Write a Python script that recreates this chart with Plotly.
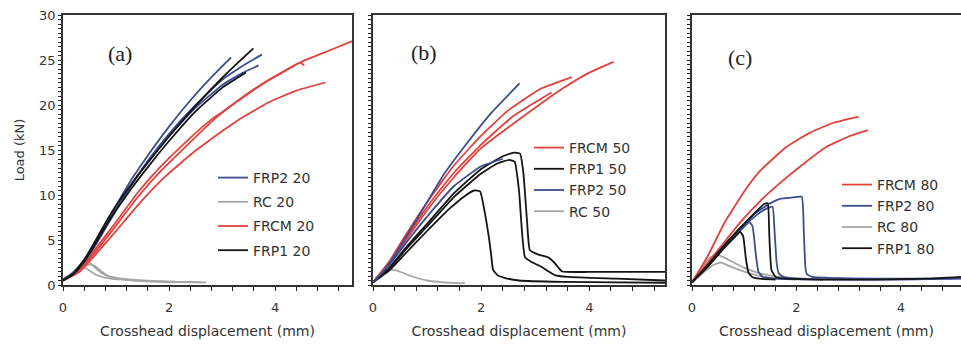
import plotly.graph_objects as go

# ---------------- Panel (a) : 20 ----------------
A_FRP2_1_X = [0, 0.2, 0.4, 0.6, 0.8, 1.0, 1.3, 1.6, 2.0, 2.4, 2.8, 3.17]
A_FRP2_1_Y = [0.6, 1.4, 2.8, 4.6, 6.7, 8.8, 11.8, 14.4, 17.6, 20.5, 23.1, 25.3]
A_FRP2_2_X = [0, 0.2, 0.4, 0.6, 0.8, 1.0, 1.3, 1.6, 2.0, 2.5, 3.0, 3.4, 3.75]
A_FRP2_2_Y = [0.6, 1.3, 2.6, 4.3, 6.3, 8.3, 11.2, 13.8, 16.8, 20.0, 22.8, 24.4, 25.6]
A_FRP2_3_X = [0, 0.2, 0.4, 0.6, 0.8, 1.0, 1.3, 1.6, 2.0, 2.5, 3.0, 3.4, 3.69]
A_FRP2_3_Y = [0.6, 1.3, 2.7, 4.4, 6.4, 8.4, 11.2, 13.7, 16.6, 19.7, 22.2, 23.6, 24.4]

A_RC_1_X = [0, 0.2, 0.4, 0.5, 0.65, 0.8, 1.0, 1.3, 1.7, 2.2, 2.7]
A_RC_1_Y = [0.5, 1.5, 2.6, 2.5, 1.7, 1.1, 0.8, 0.6, 0.45, 0.35, 0.3]
A_RC_2_X = [0, 0.2, 0.35, 0.45, 0.6, 0.8, 1.1, 1.5, 2.0, 2.6]
A_RC_2_Y = [0.5, 1.3, 2.0, 1.8, 1.2, 0.8, 0.6, 0.45, 0.35, 0.3]
A_RC_3_X = [0, 0.25, 0.5, 0.6, 0.75, 0.9, 1.2, 1.6, 2.1]
A_RC_3_Y = [0.5, 1.6, 2.3, 2.1, 1.4, 0.9, 0.6, 0.4, 0.3]

A_FRCM_1_X = [0, 0.3, 0.6, 1.0, 1.4, 1.8, 2.3, 2.8, 3.1, 3.6, 4.0, 4.5, 5.0, 5.5]
A_FRCM_1_Y = [0.5, 1.6, 3.9, 7.0, 10.2, 12.9, 15.8, 18.4, 19.6, 21.7, 23.2, 24.8, 26.0, 27.2]
A_FRCM_2_X = [0, 0.3, 0.6, 1.0, 1.4, 1.8, 2.3, 2.85, 3.3, 3.8, 4.2, 4.47, 4.55]
A_FRCM_2_Y = [0.5, 1.5, 3.6, 6.6, 9.7, 12.4, 15.3, 18.4, 20.5, 22.5, 23.8, 24.7, 24.4]
A_FRCM_3_X = [0, 0.3, 0.6, 1.0, 1.4, 1.9, 2.47, 2.72, 3.3, 3.88, 4.4, 4.95]
A_FRCM_3_Y = [0.5, 1.4, 3.3, 6.0, 8.8, 11.9, 14.8, 15.9, 18.3, 20.3, 21.6, 22.5]

A_FRP1_1_X = [0, 0.2, 0.4, 0.6, 0.8, 1.0, 1.3, 1.6, 2.0, 2.5, 3.0, 3.3, 3.59]
A_FRP1_1_Y = [0.5, 1.3, 2.8, 4.8, 6.9, 8.8, 11.3, 13.6, 16.5, 19.9, 23.0, 24.7, 26.3]
A_FRP1_2_X = [0, 0.2, 0.4, 0.6, 0.8, 1.0, 1.3, 1.6, 2.0, 2.5, 3.0, 3.45]
A_FRP1_2_Y = [0.5, 1.2, 2.6, 4.5, 6.5, 8.3, 10.8, 13.1, 16.0, 19.3, 21.9, 23.6]

# ---------------- Panel (b) : 50 ----------------
B_FRCM_1_X = [0, 0.3, 0.6, 1.0, 1.5, 2.0, 2.5, 3.1, 3.68]
B_FRCM_1_Y = [0.3, 2.6, 5.5, 9.2, 13.3, 16.6, 19.4, 21.8, 23.1]
B_FRCM_2_X = [0, 0.3, 0.6, 1.0, 1.5, 2.0, 2.75, 3.5, 4.0, 4.45]
B_FRCM_2_Y = [0.3, 2.3, 4.9, 8.3, 12.0, 15.2, 18.6, 21.8, 23.6, 24.8]
B_FRCM_3_X = [0, 0.3, 0.6, 1.0, 1.5, 2.0, 2.6, 3.3]
B_FRCM_3_Y = [0.3, 2.4, 5.1, 8.7, 12.5, 15.6, 18.8, 21.4]

B_FRP1_1_X = [0, 0.3, 0.6, 1.0, 1.5, 2.0, 2.4, 2.6, 2.72, 2.78, 2.85, 2.9, 3.05, 3.23, 3.35, 3.42, 3.5, 4.0, 5.0, 5.4]
B_FRP1_1_Y = [0.3, 1.9, 4.1, 6.8, 10.2, 12.9, 14.3, 14.7, 14.6, 12.5, 7.0, 3.9, 3.4, 3.1, 2.5, 2.0, 1.5, 1.45, 1.45, 1.45]
B_FRP1_2_X = [0, 0.3, 0.6, 1.0, 1.5, 2.0, 2.3, 2.52, 2.62, 2.7, 2.81, 2.95, 3.12, 3.25, 3.36, 3.6, 4.5, 5.4]
B_FRP1_2_Y = [0.3, 1.8, 3.9, 6.5, 9.8, 12.4, 13.5, 13.9, 13.7, 10.5, 3.1, 2.5, 2.0, 1.5, 1.1, 0.9, 0.7, 0.5]
B_FRP1_3_X = [0, 0.3, 0.6, 1.0, 1.4, 1.7, 1.87, 1.98, 2.06, 2.15, 2.19, 2.22, 2.3, 2.43, 2.7, 3.5, 4.5, 5.4]
B_FRP1_3_Y = [0.3, 1.6, 3.5, 6.0, 8.4, 9.9, 10.5, 10.4, 8.3, 5.0, 3.1, 1.7, 1.1, 0.8, 0.5, 0.35, 0.3, 0.25]

B_FRP2_1_X = [0, 0.2, 0.4, 0.88, 1.3, 1.68, 2.2, 2.71]
B_FRP2_1_Y = [0.3, 1.6, 3.3, 8.0, 12.2, 15.3, 19.2, 22.4]
B_FRP2_2_X = [0, 0.3, 0.6, 1.0, 1.5, 2.0, 2.4]
B_FRP2_2_Y = [0.3, 2.2, 4.6, 7.6, 11.0, 13.2, 14.0]

B_RC_1_X = [0, 0.15, 0.3, 0.45, 0.7, 1.0, 1.3, 1.7]
B_RC_1_Y = [0.3, 1.2, 1.7, 1.6, 1.0, 0.5, 0.3, 0.2]

# ---------------- Panel (c) : 80 ----------------
C_FRCM_1_X = [0, 0.3, 0.63, 1.0, 1.29, 1.8, 2.25, 2.7, 3.19]
C_FRCM_1_Y = [0.3, 3.2, 7.0, 10.4, 12.6, 15.3, 16.9, 18.0, 18.7]
C_FRCM_2_X = [0, 0.5, 0.96, 1.3, 1.6, 2.1, 2.56, 3.0, 3.37]
C_FRCM_2_Y = [0.3, 3.9, 7.2, 9.3, 10.9, 13.3, 15.3, 16.5, 17.2]

C_FRP2_1_X = [0, 0.3, 0.6, 0.9, 1.2, 1.5, 1.7, 1.9, 2.1, 2.14, 2.17, 2.2, 2.3, 2.6, 3.5, 4.5, 5.15]
C_FRP2_1_Y = [0.3, 2.2, 4.3, 6.2, 7.9, 9.1, 9.6, 9.7, 9.8, 6.0, 2.0, 1.2, 0.9, 0.8, 0.7, 0.7, 0.75]
C_FRP2_2_X = [0, 0.3, 0.6, 0.9, 1.2, 1.4, 1.54, 1.58, 1.62, 1.66, 1.75, 2.0, 3.0, 4.0, 5.15]
C_FRP2_2_Y = [0.3, 2.1, 4.2, 6.0, 7.6, 8.4, 8.7, 6.0, 2.5, 1.3, 0.9, 0.7, 0.6, 0.6, 0.7]
C_FRP2_3_X = [0, 0.3, 0.6, 0.9, 1.1, 1.16, 1.22, 1.27, 1.35, 1.6, 2.5]
C_FRP2_3_Y = [0.3, 2.1, 4.1, 5.9, 7.0, 6.5, 3.5, 1.5, 0.9, 0.7, 0.6]

C_RC_1_X = [0, 0.15, 0.3, 0.45, 0.6, 0.8, 1.0, 1.3, 1.7, 2.2]
C_RC_1_Y = [0.3, 1.6, 2.8, 3.4, 3.1, 2.5, 1.9, 1.3, 0.9, 0.7]
C_RC_2_X = [0, 0.2, 0.4, 0.55, 0.8, 1.1, 1.5, 2.0]
C_RC_2_Y = [0.3, 1.3, 2.2, 2.5, 1.9, 1.3, 0.8, 0.6]

C_FRP1_1_X = [0, 0.3, 0.6, 0.9, 1.2, 1.38, 1.45, 1.48, 1.52, 1.6, 1.8, 2.5, 3.5, 4.5, 5.15]
C_FRP1_1_Y = [0.3, 2.2, 4.3, 6.2, 8.0, 9.0, 9.1, 5.5, 1.7, 0.9, 0.7, 0.6, 0.6, 0.7, 0.9]
C_FRP1_2_X = [0, 0.3, 0.6, 0.8, 0.92, 0.98, 1.03, 1.08, 1.15, 1.3, 1.6]
C_FRP1_2_Y = [0.3, 2.0, 4.0, 5.2, 5.9, 5.4, 3.0, 1.4, 0.9, 0.7, 0.6]

PANEL_LABELS = ["(a)", "(b)", "(c)"]
X_TITLE = "Crosshead displacement (mm)"
Y_TITLE = "Load (kN)"
X_LABELED = [0, 2, 4]
Y_LABELED = [0, 5, 10, 15, 20, 25, 30]
X_TICK_STEP = 0.4
Y_TICK_STEP = 0.5

COL = {"FRP2": "#3d4d8e", "RC": "#a6a6a6", "FRCM": "#e2423e", "FRP1": "#141414"}

FONT = "DejaVu Sans"
fig = go.Figure()

panels = [
    ("", "legend", [
        ("RC", "RC 20", 2, [(A_RC_1_X, A_RC_1_Y), (A_RC_2_X, A_RC_2_Y), (A_RC_3_X, A_RC_3_Y)]),
        ("FRCM", "FRCM 20", 3, [(A_FRCM_1_X, A_FRCM_1_Y), (A_FRCM_2_X, A_FRCM_2_Y), (A_FRCM_3_X, A_FRCM_3_Y)]),
        ("FRP2", "FRP2 20", 1, [(A_FRP2_1_X, A_FRP2_1_Y), (A_FRP2_2_X, A_FRP2_2_Y), (A_FRP2_3_X, A_FRP2_3_Y)]),
        ("FRP1", "FRP1 20", 4, [(A_FRP1_1_X, A_FRP1_1_Y), (A_FRP1_2_X, A_FRP1_2_Y)]),
    ]),
    ("2", "legend2", [
        ("RC", "RC 50", 4, [(B_RC_1_X, B_RC_1_Y)]),
        ("FRCM", "FRCM 50", 1, [(B_FRCM_1_X, B_FRCM_1_Y), (B_FRCM_2_X, B_FRCM_2_Y), (B_FRCM_3_X, B_FRCM_3_Y)]),
        ("FRP1", "FRP1 50", 2, [(B_FRP1_1_X, B_FRP1_1_Y), (B_FRP1_2_X, B_FRP1_2_Y), (B_FRP1_3_X, B_FRP1_3_Y)]),
        ("FRP2", "FRP2 50", 3, [(B_FRP2_1_X, B_FRP2_1_Y), (B_FRP2_2_X, B_FRP2_2_Y)]),
    ]),
    ("3", "legend3", [
        ("RC", "RC 80", 3, [(C_RC_1_X, C_RC_1_Y), (C_RC_2_X, C_RC_2_Y)]),
        ("FRCM", "FRCM 80", 1, [(C_FRCM_1_X, C_FRCM_1_Y), (C_FRCM_2_X, C_FRCM_2_Y)]),
        ("FRP2", "FRP2 80", 2, [(C_FRP2_1_X, C_FRP2_1_Y), (C_FRP2_2_X, C_FRP2_2_Y), (C_FRP2_3_X, C_FRP2_3_Y)]),
        ("FRP1", "FRP1 80", 4, [(C_FRP1_1_X, C_FRP1_1_Y), (C_FRP1_2_X, C_FRP1_2_Y)]),
    ]),
]

for suffix, leg, series in panels:
    for key, name, rank, curves in series:
        for i, (xs, ys) in enumerate(curves):
            fig.add_trace(go.Scatter(
                x=xs, y=ys, mode="lines", name=name,
                legendgroup=name, showlegend=(i == 0), legend=leg, legendrank=rank,
                line=dict(color=COL[key], width=1.8, shape="spline", smoothing=0.4),
                xaxis="x" + suffix, yaxis="y" + suffix,
            ))

W, H = 961, 345
ML, MR, MT, MB = 63, 0, 15, 60
PW = W - ML - MR
def px(p):
    return (p - ML) / PW
def py(p):
    return (H - MB - p) / (H - MB - MT)

domains = [(px(63), px(352)), (px(373), px(665)), (px(692), 1.0)]
xranges = [[0, 5.45], [0, 5.4], [0, 5.15]]

x_tickvals = [round(i * X_TICK_STEP, 3) for i in range(0, 14)]
x_ticktext = [str(int(v)) if any(abs(v - L) < 1e-6 for L in X_LABELED) else "" for v in x_tickvals]
y_tickvals = [round(i * Y_TICK_STEP, 3) for i in range(0, 61)]
y_ticktext = [str(int(v)) if any(abs(v - L) < 1e-6 for L in Y_LABELED) else "" for v in y_tickvals]

axis_font = dict(family=FONT, size=13, color="#333")
layout = dict(
    width=W, height=H, margin=dict(l=ML, r=MR, t=MT, b=MB, autoexpand=False),
    paper_bgcolor="white", plot_bgcolor="white",
    font=dict(family=FONT, color="#333"),
)
for i, suffix in enumerate(["", "2", "3"]):
    xa = dict(
        domain=list(domains[i]), range=xranges[i], anchor="y" + suffix,
        automargin=False,
        showline=True, linecolor="#333", linewidth=1.5, mirror=True,
        ticks="outside", ticklen=4, tickwidth=1.2, tickcolor="#222",
        tickmode="array", tickvals=x_tickvals, ticktext=x_ticktext,
        ticklabelstandoff=6,
        showgrid=False, zeroline=False,
        tickfont=axis_font,
        title=dict(text=X_TITLE, font=dict(family=FONT, size=14, color="#333"), standoff=12),
    )
    ya = dict(
        domain=[0, 1], range=[0, 30], anchor="x" + suffix,
        automargin=False,
        showline=True, linecolor="#333", linewidth=1.5, mirror=(i < 2),
        ticks="outside", ticklen=3, tickwidth=1.2, tickcolor="#222",
        tickmode="array", tickvals=y_tickvals, ticktext=y_ticktext,
        showgrid=False, zeroline=False,
        tickfont=axis_font, showticklabels=(i == 0),
    )
    if i == 0:
        ya["title"] = dict(text=Y_TITLE, font=dict(family=FONT, size=13, color="#333"), standoff=12)
    layout["xaxis" + suffix] = xa
    layout["yaxis" + suffix] = ya

leg_font = dict(family=FONT, size=14, color="#333")
legend_common = dict(bgcolor="rgba(0,0,0,0)", borderwidth=0, font=leg_font,
                     itemwidth=30, xanchor="left", yanchor="top")
layout["legend"] = dict(x=px(213), y=py(162), tracegroupgap=3, **legend_common)
layout["legend2"] = dict(x=px(529), y=py(132), tracegroupgap=0, **legend_common)
layout["legend3"] = dict(x=px(837), y=py(169), tracegroupgap=0, **legend_common)

ann_pos = [(1.08, 25.7), (0.94, 25.8), (0.92, 25.3)]
annotations = []
for i, suffix in enumerate(["", "2", "3"]):
    annotations.append(dict(
        text=PANEL_LABELS[i], x=ann_pos[i][0], y=ann_pos[i][1],
        xref="x" + suffix, yref="y" + suffix, showarrow=False,
        font=dict(family="Liberation Serif", size=22, color="#222"),
    ))
layout["annotations"] = annotations

fig.update_layout(**layout)
fig.write_html(
    "out.html",
    config={"displayModeBar": False},
    post_script="document.body.style.margin='0';document.body.style.overflow='hidden';",
)
